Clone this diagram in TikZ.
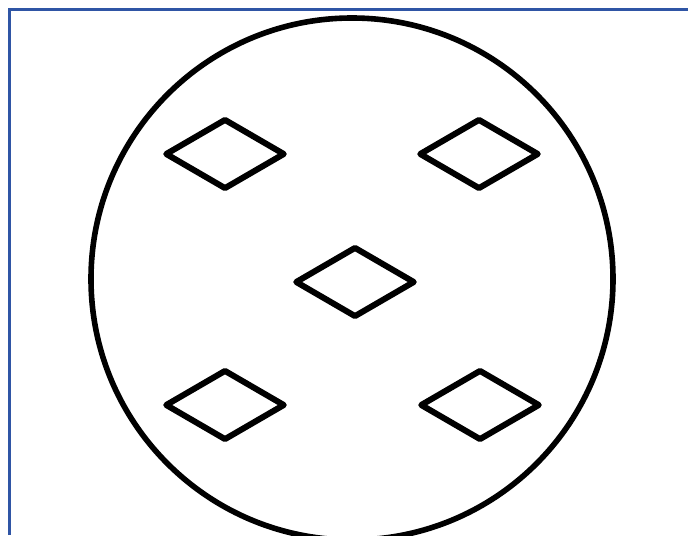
\documentclass[tikz,border=0pt]{standalone}
\usepackage{xcolor}
\usepackage{tikz}
\usetikzlibrary{shapes.geometric}

\definecolor{frameblue}{RGB}{47,85,165}

\begin{document}
\begin{tikzpicture}[
    x=0.75pt, y=-0.75pt,
    plate/.style={draw, circle, line width=4.2pt, inner sep=0pt,
                  minimum size=391.5pt},
    gem/.style={draw, diamond, line width=4.5pt, line join=round,
                inner sep=0pt, minimum width=90pt, minimum height=53pt},
    ]

\useasboundingbox (0,0) rectangle (688,535);

% ---- frame ----
\draw[frameblue, line width=1.6pt] (9.5,535) -- (9.5,9.5) -- (688,9.5);

% ---- plate ----
\node[plate] (dish) at (352,279) {};

% ---- diamonds ----
\node[gem] (topleft) at (225,154) {};
\node[gem] (topright) at (479,154) {};
\node[gem] (centre) at (355,282) {};
\node[gem] (botleft) at (225,405) {};
\node[gem] (botright) at (480,405) {};
\end{tikzpicture}
\end{document}
